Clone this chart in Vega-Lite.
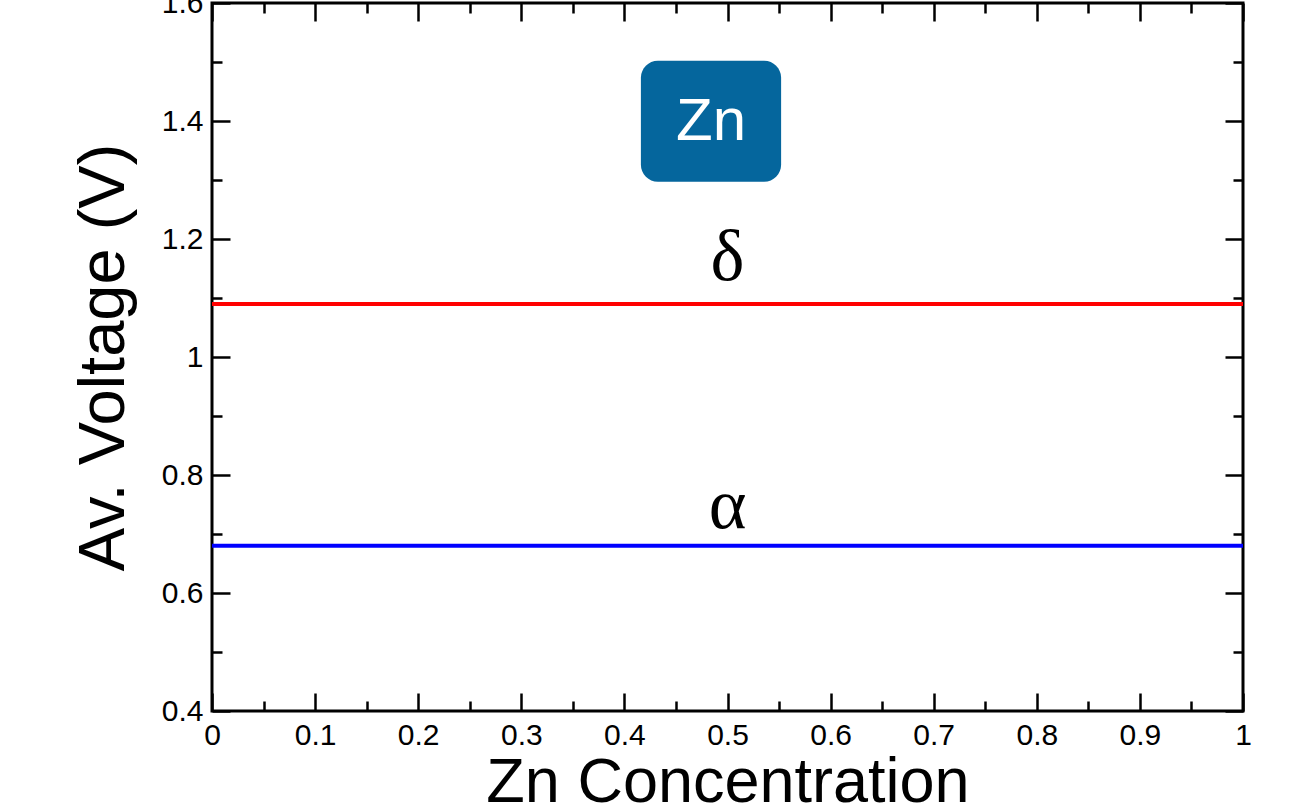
{
  "$schema": "https://vega.github.io/schema/vega-lite/v6.json",
  "width": 1031,
  "height": 708,
  "autosize": {"type": "none"},
  "padding": {"left": 212, "top": 3, "right": 60, "bottom": 101},
  "background": "white",
  "config": {
    "view": {"stroke": "black", "strokeWidth": 3},
    "axis": {
      "grid": false,
      "domain": false,
      "tickColor": "black",
      "labelColor": "black",
      "titleColor": "black",
      "labelFont": "Liberation Sans",
      "titleFont": "Liberation Sans",
      "labelFontSize": 30,
      "titleFontSize": 64,
      "titleFontWeight": "normal",
      "labelFlush": false,
      "labelOverlap": false,
      "labelBound": false
    }
  },
  "datasets": {
    "lines": [
      {"phase": "δ", "v": 1.09, "x0": 0, "x1": 1},
      {"phase": "α", "v": 0.68, "x0": 0, "x1": 1}
    ],
    "labels": [
      {"phase": "δ", "x": 0.5, "y": 1.131},
      {"phase": "α", "x": 0.5, "y": 0.71}
    ],
    "box": [
      {"name": "Zn", "x0": 0.416, "x1": 0.552, "y0": 1.297, "y1": 1.502, "tx": 0.484, "ty": 1.368}
    ]
  },
  "layer": [
    {
      "data": {"name": "lines"},
      "mark": {"type": "rule", "strokeWidth": 4},
      "encoding": {
        "x": {
          "field": "x0", "type": "quantitative",
          "scale": {"domain": [0, 1], "nice": false, "zero": false},
          "axis": {
            "orient": "bottom",
            "values": [0, 0.1, 0.2, 0.3, 0.4, 0.5, 0.6, 0.7, 0.8, 0.9, 1],
            "format": "~g",
            "tickSize": -18, "tickWidth": 2.5,
            "labelPadding": 27,
            "title": "Zn Concentration",
            "titleFontSize": 63,
            "titlePadding": 1
          }
        },
        "x2": {"field": "x1"},
        "y": {
          "field": "v", "type": "quantitative",
          "scale": {"domain": [0.4, 1.6], "nice": false, "zero": false},
          "axis": {
            "orient": "left",
            "values": [0.4, 0.6, 0.8, 1, 1.2, 1.4, 1.6],
            "format": "~g",
            "tickSize": -18, "tickWidth": 2.5,
            "labelPadding": 27,
            "title": "Av. Voltage (V)",
            "titleFontSize": 65,
            "titlePadding": 24
          }
        },
        "color": {
          "field": "phase", "type": "nominal",
          "scale": {"domain": ["δ", "α"], "range": ["#ff0000", "#0000ff"]},
          "legend": null
        }
      }
    },
    {
      "data": {"name": "labels"},
      "mark": {"type": "text", "font": "Liberation Serif", "fontSize": 72, "align": "center", "baseline": "alphabetic", "color": "black"},
      "encoding": {
        "x": {
          "field": "x", "type": "quantitative",
          "scale": {"domain": [0, 1], "nice": false, "zero": false},
          "axis": {"orient": "top", "values": [0, 0.1, 0.2, 0.3, 0.4, 0.5, 0.6, 0.7, 0.8, 0.9, 1], "tickSize": -18, "tickWidth": 2.5, "labels": false, "title": null}
        },
        "y": {
          "field": "y", "type": "quantitative",
          "scale": {"domain": [0.4, 1.6], "nice": false, "zero": false},
          "axis": {"orient": "right", "values": [0.4, 0.6, 0.8, 1, 1.2, 1.4, 1.6], "tickSize": -18, "tickWidth": 2.5, "labels": false, "title": null}
        },
        "text": {"field": "phase"}
      }
    },
    {
      "data": {"name": "box"},
      "mark": {"type": "rect", "color": "#05669d", "cornerRadius": 17},
      "encoding": {
        "x": {
          "field": "x0", "type": "quantitative",
          "scale": {"domain": [0, 1], "nice": false, "zero": false},
          "axis": {"orient": "bottom", "values": [0.05, 0.15, 0.25, 0.35, 0.45, 0.55, 0.65, 0.75, 0.85, 0.95], "tickSize": -10, "tickWidth": 2.5, "labels": false, "title": null}
        },
        "x2": {"field": "x1"},
        "y": {
          "field": "y0", "type": "quantitative",
          "scale": {"domain": [0.4, 1.6], "nice": false, "zero": false},
          "axis": {"orient": "left", "values": [0.5, 0.7, 0.9, 1.1, 1.3, 1.5], "tickSize": -10, "tickWidth": 2.5, "labels": false, "title": null}
        },
        "y2": {"field": "y1"}
      }
    },
    {
      "data": {"name": "box"},
      "mark": {"type": "text", "font": "Liberation Sans", "fontSize": 60, "align": "center", "baseline": "alphabetic", "color": "white"},
      "encoding": {
        "x": {
          "field": "tx", "type": "quantitative",
          "scale": {"domain": [0, 1], "nice": false, "zero": false},
          "axis": {"orient": "top", "values": [0.05, 0.15, 0.25, 0.35, 0.45, 0.55, 0.65, 0.75, 0.85, 0.95], "tickSize": -10, "tickWidth": 2.5, "labels": false, "title": null}
        },
        "y": {
          "field": "ty", "type": "quantitative",
          "scale": {"domain": [0.4, 1.6], "nice": false, "zero": false},
          "axis": {"orient": "right", "values": [0.5, 0.7, 0.9, 1.1, 1.3, 1.5], "tickSize": -10, "tickWidth": 2.5, "labels": false, "title": null}
        },
        "text": {"field": "name"}
      }
    }
  ],
  "resolve": {"axis": {"x": "independent", "y": "independent"}}
}
